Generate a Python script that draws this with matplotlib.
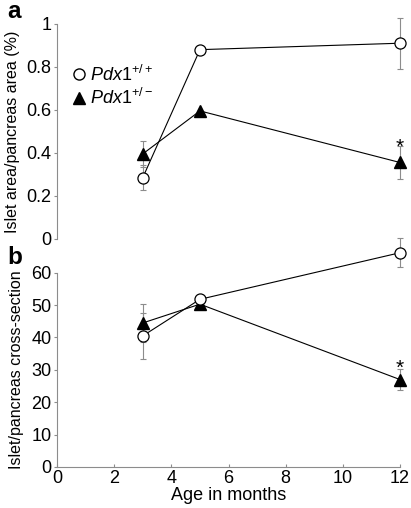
import matplotlib
matplotlib.use("Agg")
import matplotlib.pyplot as plt

plt.rcParams['font.family'] = ['Liberation Sans', 'DejaVu Sans']
plt.rcParams['mathtext.fontset'] = 'custom'
plt.rcParams['mathtext.it'] = 'Liberation Sans:italic'
plt.rcParams['mathtext.rm'] = 'Liberation Sans'

age = [3, 5, 12]

# panel a: islet area / pancreas area (%)
a_wt = [0.285, 0.88, 0.91]
a_wt_err = [0.06, 0.0, 0.118]
a_het = [0.395, 0.595, 0.355]
a_het_err = [0.062, 0.0, 0.075]

# panel b: islets per pancreas cross-section
b_wt = [40.5, 51.8, 66.2]
b_wt_err = [7.0, 0.0, 4.5]
b_het = [44.5, 50.3, 27.0]
b_het_err = [6.0, 0.0, 3.2]

grey = '#8c8c8c'
fs = 13
lfs = 11.5

fig = plt.figure(figsize=(4.11, 5.08), dpi=100)
ax1 = fig.add_axes([0.139, 0.530, 0.834, 0.423])
ax2 = fig.add_axes([0.139, 0.081, 0.834, 0.382])


def draw(ax, wt, wt_err, het, het_err):
    ax.errorbar(age, wt, yerr=wt_err, fmt='none', ecolor=grey, elinewidth=0.8,
                capsize=2, capthick=0.8, clip_on=False, zorder=1)
    ax.errorbar(age, het, yerr=het_err, fmt='none', ecolor=grey, elinewidth=0.8,
                capsize=2, capthick=0.8, clip_on=False, zorder=1)
    ax.plot(age, het, color='black', lw=0.8, marker='^', ms=8.5, mfc='black',
            mec='black', clip_on=False, zorder=3)
    ax.plot(age, wt, color='black', lw=0.8, marker='o', ms=8, mfc='white',
            mec='black', mew=0.9, clip_on=False, zorder=4)
    for s in ['top', 'right']:
        ax.spines[s].set_visible(False)
    ax.spines['left'].set_color(grey)
    ax.spines['bottom'].set_color(grey)
    ax.tick_params(axis='y', direction='out', length=2, color=grey,
                   labelsize=fs, pad=2)
    ax.tick_params(axis='x', direction='in', length=2, color=grey,
                   labelsize=fs, pad=2)
    ax.set_xlim(0, 12)


draw(ax1, a_wt, a_wt_err, a_het, a_het_err)
ax1.set_ylim(0, 1)
ax1.set_yticks([0, 0.2, 0.4, 0.6, 0.8, 1])
ax1.set_yticklabels(['0', '0.2', '0.4', '0.6', '0.8', '1'])
ax1.spines['bottom'].set_visible(False)
ax1.set_xticks([])
ax1.set_ylabel('Islet area/pancreas area (%)', fontsize=lfs, labelpad=5)
ax1.text(12, a_het[2] + a_het_err[2] - 0.05, '*', ha='center', va='bottom',
         fontsize=15)

draw(ax2, b_wt, b_wt_err, b_het, b_het_err)
ax2.set_ylim(0, 60)
ax2.set_yticks(range(0, 61, 10))
ax2.set_xticks(range(0, 13, 2))
ax2.set_xlabel('Age in months', fontsize=fs, labelpad=0)
ax2.set_ylabel('Islet/pancreas cross-section', fontsize=lfs, labelpad=5)
ax2.text(12, b_het[2] + b_het_err[2] - 2.8, '*', ha='center', va='bottom',
         fontsize=15)

# legend
ax1.plot([], [], ls='none', marker='o', ms=8, mfc='white', mec='black',
         label=r'$\mathit{Pdx1}^{\mathit{+/+}}$')
ax1.plot([], [], ls='none', marker='^', ms=9, mfc='black', mec='black',
         label=r'$\mathit{Pdx1}^{\mathit{+/-}}$')
ax1.legend(loc='upper left', bbox_to_anchor=(0.005, 0.87), frameon=False,
           fontsize=fs, handlelength=0.8, handletextpad=0.2,
           labelspacing=0.2, borderaxespad=0.3)

fig.text(0.018, 1 - 18.5 / 508, 'a', fontsize=17.5, fontweight='bold',
         va='baseline')
fig.text(0.018, 1 - 264 / 508, 'b', fontsize=17.5, fontweight='bold',
         va='baseline')

fig.savefig('out.png', dpi=100)
